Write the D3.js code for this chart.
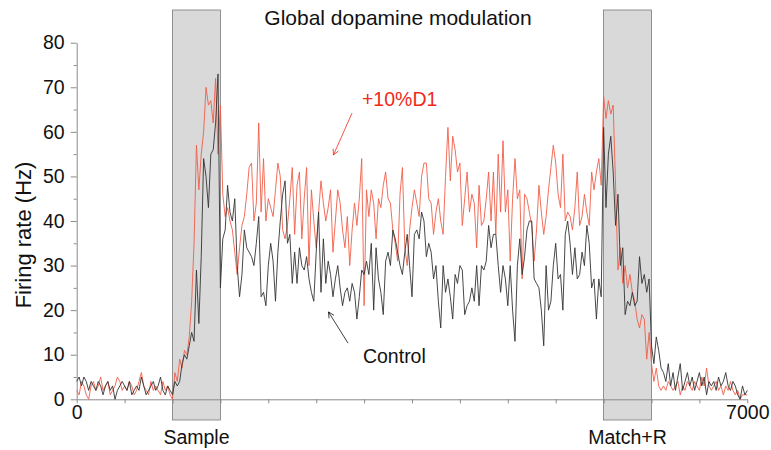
<!DOCTYPE html>
<html>
<head>
<meta charset="utf-8">
<script src="https://cdn.jsdelivr.net/npm/d3@7"></script>
<style>
  body { margin: 0; background: #fff; }
  svg { font-family: "Liberation Sans", Arial, Helvetica, sans-serif; }
</style>
</head>
<body>
<div id="chart"></div>
<script>
// firing rate (Hz), one value every 25 ms from 0 to 7000 ms
var control = [
  4,5,3,5,4,2,4,3,2,4,3,1,3,4,2,3,0,2,3,4,
  3,2,4,1,2,3,2,5,3,1,2,3,4,2,3,5,2,1,3,2,
  1,4,3,4,8,10,9,12,15,13,29,17,32,54,50,43,55,56,62,73,
  25,36,38,48,42,40,45,30,23,28,38,34,33,32,30,35,41,23,24,21,
  30,35,31,22,33,40,46,49,35,37,26,33,26,34,30,29,32,27,24,22,
  33,42,24,36,26,31,28,23,27,30,25,21,24,25,22,26,24,18,23,29,
  28,31,28,35,20,34,27,24,19,31,33,30,38,36,33,30,28,33,37,30,
  23,37,38,36,42,40,32,35,33,27,30,22,16,30,24,27,23,18,28,26,
  30,29,19,21,22,25,22,30,21,30,29,31,39,34,37,37,30,24,30,27,
  21,30,20,13,30,36,28,32,38,40,40,27,26,25,20,12,30,20,22,30,
  35,27,28,20,37,40,35,28,34,27,28,33,30,39,35,25,27,18,27,23,
  61,43,55,59,51,39,46,30,34,19,22,21,24,21,22,32,26,28,24,27,
  12,8,14,11,7,6,4,8,3,6,2,5,8,2,4,6,3,5,2,4,
  6,3,5,1,4,3,4,2,5,3,4,6,3,2,4,3,1,0,3,1,
  2
];
var d1 = [
  2,1,4,3,1,0,3,4,2,3,5,2,3,4,1,2,3,5,4,2,
  3,2,4,3,1,2,4,6,3,2,1,4,2,3,2,1,4,2,3,1,
  0,6,4,9,7,11,10,14,22,35,57,47,55,60,70,66,67,62,72,55,
  66,46,41,43,40,38,33,28,34,39,41,46,52,53,40,44,62,42,54,40,
  45,43,41,47,53,50,38,36,39,45,52,37,48,51,36,45,52,30,47,40,
  34,42,49,44,40,43,47,33,40,47,44,38,34,41,30,38,44,39,45,54,
  21,47,41,47,44,36,45,43,48,51,45,44,38,35,31,46,52,34,30,38,
  43,47,44,41,50,53,53,45,44,37,42,45,40,37,50,61,49,59,56,51,
  53,39,45,51,42,46,44,34,48,39,40,45,51,40,51,37,55,42,58,42,
  47,31,45,54,45,47,27,46,45,42,39,31,38,48,42,37,41,47,52,57,
  53,46,43,55,40,42,41,38,43,51,39,41,46,42,39,51,47,51,54,48,
  68,63,67,64,66,48,29,34,26,30,25,28,24,22,18,16,19,18,9,15,
  8,4,7,3,2,3,2,4,3,2,3,4,1,3,2,4,3,2,4,3,
  2,5,3,7,3,2,3,4,2,3,1,3,2,4,2,1,2,0,1,1,
  1
];
var timeStep = 25;
var epochs = [
  { name: "Sample", start: 1000, end: 1500 },
  { name: "Match+R", start: 5500, end: 6000 }
];
var yTicks = [0, 10, 20, 30, 40, 50, 60, 70, 80];
var yMinorTicks = [5, 15, 25, 35, 45, 55, 65, 75];
var xTicks = [0, 500, 1000, 1500, 2000, 2500, 3000, 3500, 4000, 4500, 5000, 5500, 6000, 6500, 7000];
var xLabelled = [0, 7000];
var notes = [
  { text: "+10%D1", color: "#ee2a1a", tx: 2978, ty: 65.8, from: [2874, 64.2], to: [2680, 54.8] },
  { text: "Control", color: "#111", tx: 2988, ty: 8.2, from: [2832, 12.6], to: [2628, 19.6] }
];

var w = 771, h = 450;
var svg = d3.select("#chart").append("svg").attr("width", w).attr("height", h);

var x = d3.scaleLinear().domain([0, 7000]).range([76.7, 747.3]);
var y = d3.scaleLinear().domain([0, 80]).range([399.3, 42.7]);

// shaded task epochs
svg.selectAll("rect.epoch")
  .data(epochs)
  .enter()
  .append("rect")
  .attr("class", "epoch")
  .attr("x", function (d) { return x(d.start); })
  .attr("width", function (d) { return x(d.end) - x(d.start); })
  .attr("y", 10)
  .attr("height", 410)
  .attr("fill", "#d9d9d9")
  .attr("stroke", "#7a7a7a")
  .attr("stroke-width", 0.8);

svg.selectAll("text.epoch")
  .data(epochs)
  .enter()
  .append("text")
  .attr("class", "epoch")
  .attr("x", function (d) { return x((d.start + d.end) / 2); })
  .attr("y", 444)
  .attr("text-anchor", "middle")
  .attr("font-size", 19.5)
  .attr("fill", "#111")
  .text(function (d) { return d.name; });

// axes
var yAxis = svg.append("g")
  .attr("transform", "translate(" + x(0) + ",0)")
  .call(d3.axisLeft(y).tickValues(yTicks).tickSize(6).tickSizeOuter(0).tickPadding(6));
var yMinor = svg.append("g")
  .attr("transform", "translate(" + x(0) + ",0)")
  .call(d3.axisLeft(y).tickValues(yMinorTicks).tickSize(3).tickFormat(""));
yMinor.select(".domain").remove();

var xAxis = svg.append("g")
  .attr("transform", "translate(0," + y(0) + ")")
  .call(d3.axisBottom(x).tickValues(xTicks).tickSize(4).tickSizeOuter(0).tickPadding(2)
    .tickFormat(function (d) { return xLabelled.indexOf(d) >= 0 ? d : ""; }));

[yAxis, yMinor, xAxis].forEach(function (g) {
  g.selectAll(".domain").attr("stroke", "#8a8a8a");
  g.selectAll(".tick line").attr("stroke", "#8a8a8a");
  g.selectAll(".tick text")
    .attr("font-size", 19.5)
    .attr("fill", "#111")
    .attr("font-family", "Liberation Sans, Arial, sans-serif");
});

svg.append("text")
  .attr("transform", "translate(31,235) rotate(-90)")
  .attr("text-anchor", "middle")
  .attr("font-size", 22)
  .attr("fill", "#111")
  .text("Firing rate (Hz)");

svg.append("text")
  .attr("x", 398)
  .attr("y", 25)
  .attr("text-anchor", "middle")
  .attr("font-size", 21)
  .attr("fill", "#111")
  .text("Global dopamine modulation");

// traces
var line = d3.line()
  .x(function (d, i) { return x(i * timeStep); })
  .y(function (d) { return y(d); });

svg.append("path")
  .datum(d1)
  .attr("fill", "none")
  .attr("stroke", "#f25d48")
  .attr("stroke-width", 0.9)
  .attr("stroke-linejoin", "round")
  .attr("d", line);

svg.append("path")
  .datum(control)
  .attr("fill", "none")
  .attr("stroke", "#333")
  .attr("stroke-width", 0.9)
  .attr("stroke-linejoin", "round")
  .attr("d", line);

// annotations
var defs = svg.append("defs");
notes.forEach(function (n, i) {
  defs.append("marker")
    .attr("id", "arrow" + i)
    .attr("viewBox", "0 0 10 10")
    .attr("refX", 9)
    .attr("refY", 5)
    .attr("markerWidth", 9)
    .attr("markerHeight", 9)
    .attr("orient", "auto")
    .append("path")
    .attr("d", "M1,1L9,5L1,9")
    .attr("fill", "none")
    .attr("stroke", n.color)
    .attr("stroke-width", 1);

  svg.append("line")
    .attr("x1", x(n.from[0]))
    .attr("y1", y(n.from[1]))
    .attr("x2", x(n.to[0]))
    .attr("y2", y(n.to[1]))
    .attr("stroke", n.color)
    .attr("stroke-width", 0.8)
    .attr("marker-end", "url(#arrow" + i + ")");

  svg.append("text")
    .attr("x", x(n.tx))
    .attr("y", y(n.ty))
    .attr("font-size", 19.5)
    .attr("fill", n.color)
    .text(n.text);
});
</script>
</body>
</html>
